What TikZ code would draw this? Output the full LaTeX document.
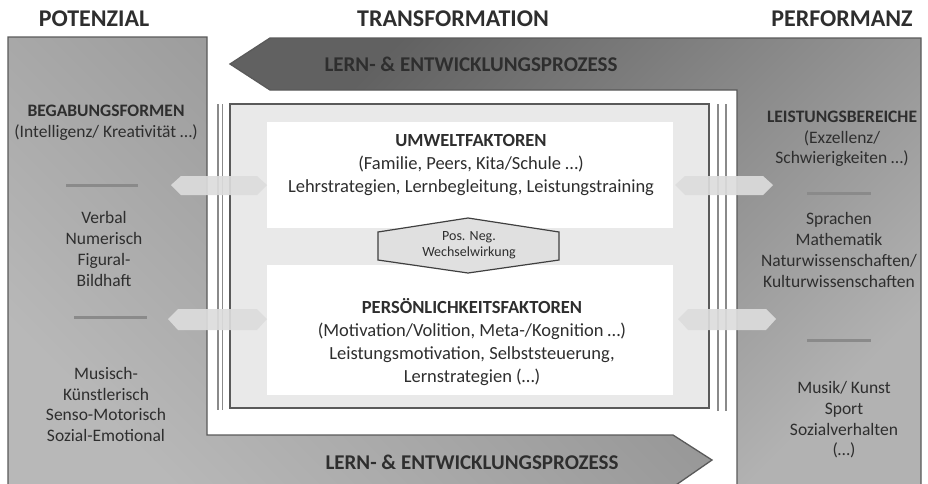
\documentclass[tikz,border=0pt]{standalone}
\usepackage{fontspec}
\setmainfont{Carlito}
\usetikzlibrary{positioning, calc, shapes}
\definecolor{txtgray}{HTML}{2E2E2E}
\definecolor{rimgray}{HTML}{5A5A5A}
\definecolor{linegray}{HTML}{8A8A8A}
\definecolor{boxgray}{HTML}{E9E9E9}
\definecolor{hintgray}{HTML}{DCDCDC}

\begin{document}
\begin{tikzpicture}[x=1pt, y=-1pt, inner sep=0pt, text=txtgray,
	headline/.style={font=\fontsize{24}{27}\selectfont\bfseries},
	prozess/.style={font=\fontsize{21}{24}\selectfont\bfseries},
	sidetext/.style={align=center, font=\fontsize{17.5}{20.7}\selectfont},
	maintext/.style={align=center, font=\fontsize{18.5}{23}\selectfont},
	sepline/.style={draw=linegray, line width=3pt},
	hintarrow/.style={fill=hintgray, opacity=0.92}]
	\useasboundingbox (0,0) rectangle (928,483);

	% Potenzial + Prozess unten
	\path[draw=rimgray, line width=1.3pt, top color=black!46, bottom color=black!28, shading angle=-45]
	(8,37) -- (207,37) -- (207,435) -- (673,435) -- (712,460) -- (673,487) -- (8,487) -- cycle;
	% Prozess oben + Performanz
	\path[draw=rimgray, line width=1.3pt, top color=black!62, bottom color=black!30, shading angle=45]
	(230,64) -- (270,38) -- (921,38) -- (921,487) -- (737,487) -- (737,90) -- (270,90) -- cycle;

	\path[sepline] (66,185) -- (138,185)
	(74,317) -- (147,317)
	(807,193) -- (871,193)
	(807,340) -- (871,340);

	% Transformation
	\path[draw=linegray, line width=1.5pt] (218,104) -- (218,410)
	(222.5,104) -- (222.5,410)
	(718,104) -- (718,411)
	(726,104) -- (726,411);
	\path[draw=rimgray, line width=1.5pt, fill=boxgray] (230,104) rectangle (709,408);
	\fill[white] (267,122) rectangle (673,228);
	\fill[white] (267,265) rectangle (673,395);

	\path[hintarrow] (171,185) -- (181,176) -- (257,176) -- (267,185) -- (257,195) -- (181,195) -- cycle;
	\path[hintarrow] (168,319) -- (178,309) -- (257,309) -- (267,319) -- (257,330) -- (178,330) -- cycle;
	\path[hintarrow] (675,185) -- (685,176) -- (763,176) -- (773,185) -- (763,195) -- (685,195) -- cycle;
	\path[hintarrow] (678,319) -- (688,309) -- (766,309) -- (776,319) -- (766,330) -- (688,330) -- cycle;

	\path[draw=black!75, line width=1.2pt, fill=black!12]
	(378,232) -- (468,218) -- (559,232) -- (559,260) -- (468,273) -- (378,260) -- cycle;

	\node[headline] (potenzial) at (94,19) {POTENZIAL};
	\node[headline] (transformation) at (453,19) {TRANSFORMATION};
	\node[headline] (performanz) at (842,19) {PERFORMANZ};

	\node[prozess] (prozessOben) at (471,64) {LERN- \& ENTWICKLUNGSPROZESS};
	\node[prozess] (prozessUnten) at (472,462) {LERN- \& ENTWICKLUNGSPROZESS};

	\node[sidetext] (begabung) at (106,122.5) {\textbf{BEGABUNGSFORMEN}\\(Intelligenz/ Kreativität …)};
	\node[sidetext] (begabungA) at (104,249) {Verbal\\Numerisch\\Figural-\\Bildhaft};
	\node[sidetext] (begabungB) at (106,404.5) {Musisch-\\Künstlerisch\\Senso-Motorisch\\Sozial-Emotional};

	\node[sidetext] (leistung) at (842,139) {\textbf{LEISTUNGSBEREICHE}\\(Exzellenz/\\Schwierigkeiten …)};
	\node[sidetext] (leistungA) at (839,250) {Sprachen\\Mathematik\\Naturwissenschaften/\\Kulturwissenschaften};
	\node[sidetext] (leistungB) at (844,420) {Musik/ Kunst\\Sport\\Sozialverhalten\\(…)};

	\node[maintext] (umwelt) at (471,165) {\textbf{UMWELTFAKTOREN}\\(Familie, Peers, Kita/Schule …)\\Lehrstrategien, Lernbegleitung, Leistungstraining};
	\node[maintext] (persoenlich) at (472,342) {\textbf{PERSÖNLICHKEITSFAKTOREN}\\(Motivation/Volition, Meta-/Kognition …)\\Leistungsmotivation, Selbststeuerung,\\Lernstrategien (…)};
	\node[align=center, font=\fontsize{14}{16}\selectfont] (wechsel) at (469,245) {Pos. Neg.\\Wechselwirkung};
\end{tikzpicture}
\end{document}
